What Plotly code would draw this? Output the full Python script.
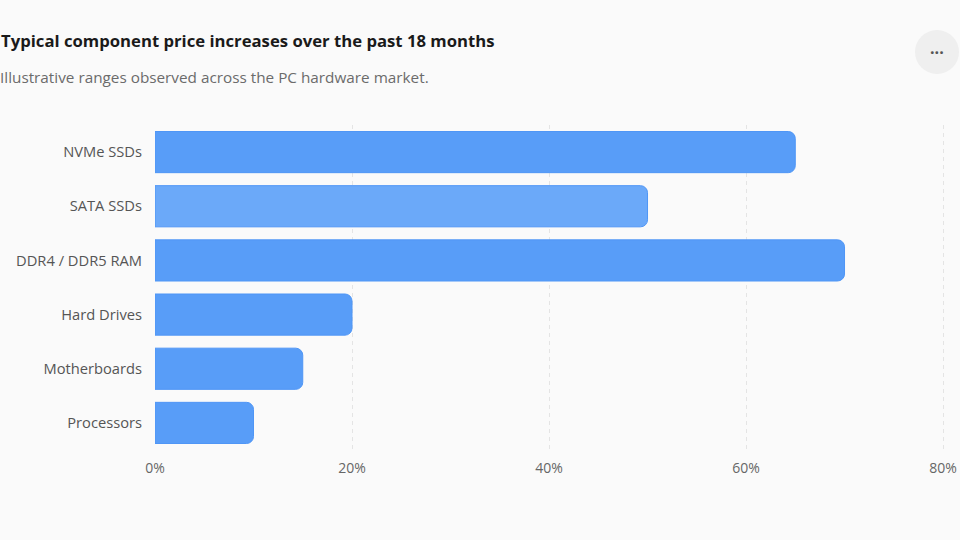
import plotly.graph_objects as go

# Component categories and their typical price increase (%)
components = ["NVMe SSDs", "SATA SSDs", "DDR4 / DDR5 RAM",
              "Hard Drives", "Motherboards", "Processors"]
increase_pct = [65, 50, 70, 20, 15, 10]
bar_colors = ["#589df8", "#6ba9f9", "#589df8", "#589df8", "#589df8", "#589df8"]

tick_vals = [0, 20, 40, 60, 80]
tick_text = ["0%", "20%", "40%", "60%", "80%"]

FONT = "Open Sans, Noto Sans, sans-serif"

fig = go.Figure()
fig.add_trace(
    go.Bar(
        x=increase_pct,
        y=components,
        orientation="h",
        marker=dict(color=bar_colors, cornerradius=7,
                    line=dict(color="#4f96f6", width=1)),
        width=0.76,
        hoverinfo="x+y",
    )
)

fig.update_layout(
    width=960,
    height=540,
    margin=dict(l=155, r=15, t=125, b=90),
    paper_bgcolor="#fafafa",
    plot_bgcolor="#fafafa",
    showlegend=False,
    font=dict(family=FONT, size=14, color="#666666"),
)

fig.update_xaxes(
    range=[0, 80.2],
    tickvals=tick_vals,
    ticktext=tick_text,
    showgrid=True,
    gridcolor="#e4e4e4",
    griddash="4px,4px",
    gridwidth=1,
    zeroline=False,
    showline=False,
    ticks="",
    automargin=False,
    ticklabeloverflow="allow",
    ticklabelstandoff=8,
    tickfont=dict(size=14, color="#666666"),
)
fig.update_yaxes(
    categoryorder="array",
    categoryarray=components[::-1],
    showgrid=False,
    zeroline=False,
    showline=False,
    ticks="",
    automargin=False,
    ticklabelstandoff=12,
    tickfont=dict(size=14.7, color="#555555"),
)

# Title and subtitle
fig.add_annotation(
    text="<b>Typical component price increases over the past 18 months</b>",
    xref="paper", yref="paper", x=(-1 - 155) / 790, y=(450 - 41) / 325,
    xanchor="left", yanchor="middle", showarrow=False,
    font=dict(family=FONT, size=16.7, color="#1a1a1a"),
)
fig.add_annotation(
    text="Illustrative ranges observed across the PC hardware market.",
    xref="paper", yref="paper", x=(-2.5 - 155) / 790, y=(450 - 77) / 325,
    xanchor="left", yanchor="middle", showarrow=False,
    font=dict(family=FONT, size=15.3, color="#6b6b6b"),
)

# Menu button in the top-right corner
fig.add_shape(
    type="circle", xref="paper", yref="paper",
    x0=(915 - 155) / 790, x1=(959 - 155) / 790,
    y0=(450 - 74) / 325, y1=(450 - 30) / 325,
    fillcolor="#efefef", line=dict(width=0), layer="below",
)
fig.add_annotation(
    text="<b>···</b>", xref="paper", yref="paper",
    x=(937 - 155) / 790, y=(450 - 52) / 325,
    xanchor="center", yanchor="middle", showarrow=False,
    font=dict(family=FONT, size=16, color="#555555"),
)

fig.write_html(
    "out.html",
    config={"displayModeBar": False},
    post_script="document.body.style.margin='0';"
                "document.body.style.background='#fafafa';",
)
